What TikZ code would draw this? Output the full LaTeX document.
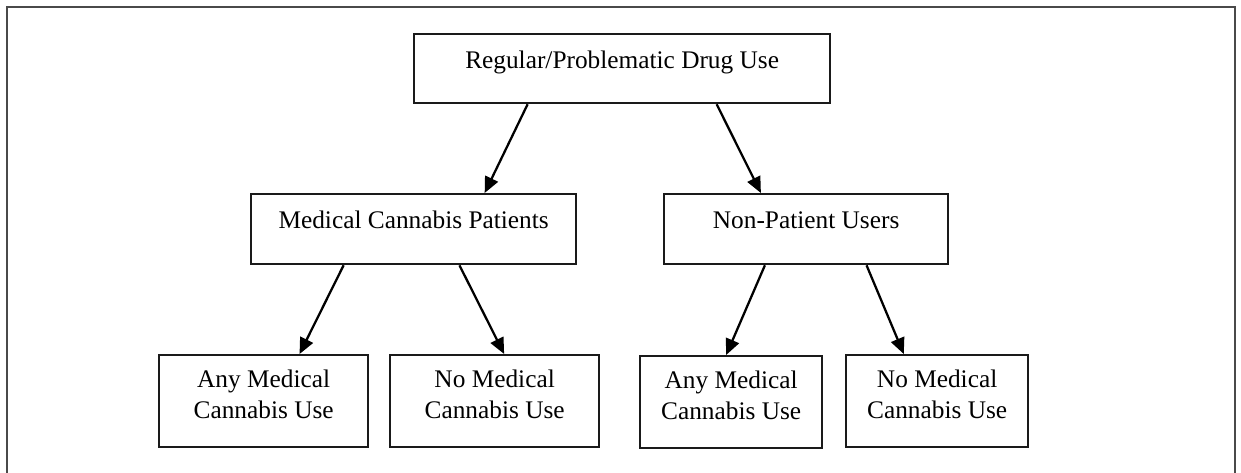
\documentclass[tikz,border=0pt]{standalone}
\usepackage{fontspec}
\setmainfont{Liberation Serif}
\usetikzlibrary{arrows.meta,calc}
\definecolor{framegray}{HTML}{4A4A4A}
\definecolor{boxline}{HTML}{1A1A1A}
\newcommand{\twolines}[2]{\raisebox{3pt}[\height][\depth]{\begin{tabular}{@{}c@{}}#1\\#2\end{tabular}}}
\begin{document}
\begin{tikzpicture}[x=0.75pt,y=-0.75pt,
  box/.style={draw=boxline, line width=1.7pt, rectangle, anchor=north west, inner xsep=0pt,
    font=\fontsize{19pt}{23.25pt}\selectfont},
  onebox/.style={box, inner ysep=0pt, text height=25.5pt, text depth=26.25pt},
  twobox/.style={box, inner ysep=0pt, minimum height=69pt},
  arr/.style={draw=black, line width=1.7pt, -{Triangle[length=12pt,width=10.5pt]}}]
\useasboundingbox (0,0) rectangle (1241,472);
\fill[white] (0,0) rectangle (1241,472);
\draw[framegray, line width=2pt] (7,475) -- (7,7) -- (1235,7) -- (1235,475);

\node[onebox, minimum width=312pt] (top) at (413,33) {Regular/Problematic Drug Use};
\node[onebox, minimum width=243.75pt, text depth=27pt] (med) at (250,193) {Medical Cannabis Patients};
\node[onebox, minimum width=213pt, text depth=27pt] (np) at (663,193) {Non-Patient Users};

\node[twobox, minimum width=156.75pt] (anyL) at (158,354) {\twolines{Any Medical}{Cannabis Use}};
\node[twobox, minimum width=156.75pt] (noL) at (389,354) {\twolines{No Medical}{Cannabis Use}};
\node[twobox, minimum width=136.5pt] (anyR) at (639,355) {\twolines{Any Medical}{Cannabis Use}};
\node[twobox, minimum width=136.5pt] (noR) at (845,354) {\twolines{No Medical}{Cannabis Use}};

\draw[arr] ($(top.south west)!0.274!(top.south east)$) -- ($(med.north west)!0.717!(med.north east)$);
\draw[arr] ($(top.south west)!0.726!(top.south east)$) -- ($(np.north west)!0.342!(np.north east)$);
\draw[arr] ($(med.south west)!0.286!(med.south east)$) -- ($(anyL.north west)!0.670!(anyL.north east)$);
\draw[arr] ($(med.south west)!0.640!(med.south east)$) -- ($(noL.north west)!0.545!(noL.north east)$);
\draw[arr] ($(np.south west)!0.356!(np.south east)$) -- ($(anyR.north west)!0.473!(anyR.north east)$);
\draw[arr] ($(np.south west)!0.711!(np.south east)$) -- ($(noR.north west)!0.319!(noR.north east)$);
\end{tikzpicture}
\end{document}
